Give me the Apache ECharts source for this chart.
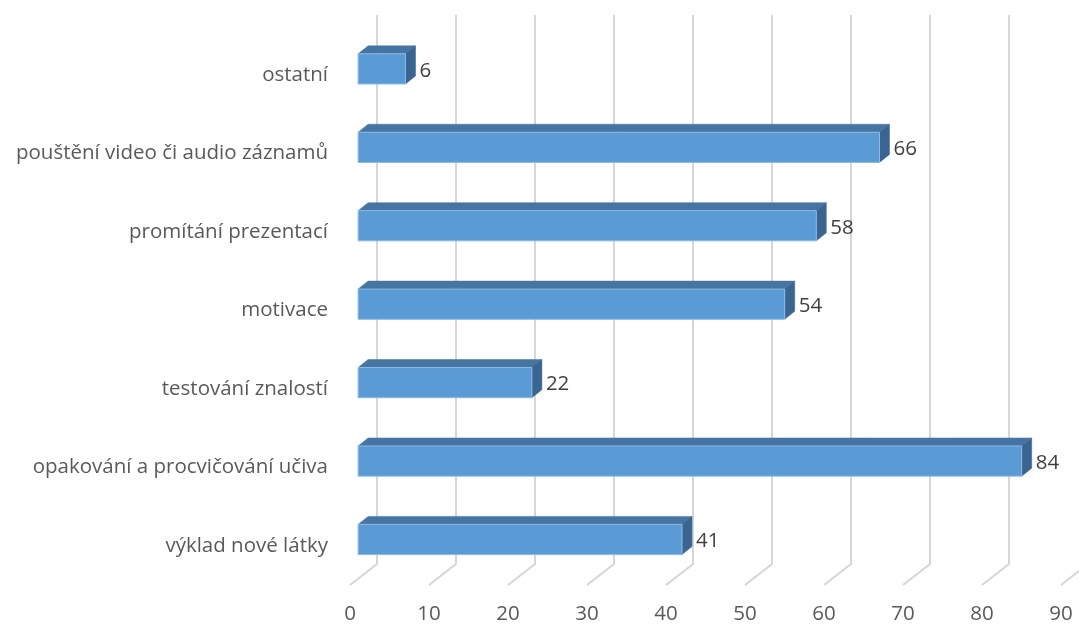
<!DOCTYPE html>
<html>
<head>
<meta charset="utf-8">
<script src="https://cdn.jsdelivr.net/npm/echarts@6/dist/echarts.min.js"></script>
<style>
  html, body { margin: 0; padding: 0; background: #fff; }
  #chart { width: 1079px; height: 626px; }
</style>
</head>
<body>
<div id="chart"></div>
<script>
// Categories listed bottom to top, as the category axis runs upward
const categories = [
  'výklad nové látky',
  'opakování a procvičování učiva',
  'testování znalostí',
  'motivace',
  'promítání prezentací',
  'pouštění video či audio záznamů',
  'ostatní'
];
const values = [41, 84, 22, 54, 58, 66, 6];
const xTicks = [0, 10, 20, 30, 40, 50, 60, 70, 80, 90];

// Pseudo-3D depth: shift from the front plane to the back wall
const DEPTH_X = 27, DEPTH_Y = -21;
// Bar box: front face sits a bit behind the front plane, with its own depth
const BAR_FRONT = 0.3, BAR_DEPTH_X = 10, BAR_DEPTH_Y = -8;
const BAR_RATIO = 0.385;

const TEXT = '#595959';
const FONT = 'Open Sans';
const SIZE = 20.5;

const chart = echarts.init(document.getElementById('chart'));

function renderGrid(params, api) {
  const v = api.value(0);
  const cs = params.coordSys;
  const x = api.coord([v, 0])[0];
  const bottom = cs.y + cs.height;
  const top = cs.y;
  const bx = x + DEPTH_X;
  return {
    type: 'polyline',
    shape: { points: [[bx, top + DEPTH_Y], [bx, bottom + DEPTH_Y], [x, bottom]] },
    style: { stroke: '#D6D6D6', lineWidth: 2, fill: null }
  };
}

function renderBar(params, api) {
  const cat = api.value(0);
  const val = api.value(1);
  const p0 = api.coord([0, cat]);
  const p1 = api.coord([val, cat]);
  const band = api.size([0, 1])[1];
  const h = band * BAR_RATIO;
  const ox = DEPTH_X * BAR_FRONT, oy = DEPTH_Y * BAR_FRONT;
  const x0 = p0[0] + ox, x1 = p1[0] + ox;
  const cy = p0[1] + oy;
  const y0 = cy - h / 2, y1 = cy + h / 2;
  const dx = BAR_DEPTH_X, dy = BAR_DEPTH_Y;
  return {
    type: 'group',
    children: [
      {
        type: 'polygon',
        shape: { points: [[x0, y0], [x1, y0], [x1 + dx, y0 + dy], [x0 + dx, y0 + dy]] },
        style: { fill: '#4675A3', stroke: '#4675A3', lineWidth: 0.5 }
      },
      {
        type: 'polygon',
        shape: { points: [[x1, y0], [x1 + dx, y0 + dy], [x1 + dx, y1 + dy], [x1, y1]] },
        style: { fill: '#3A6590', stroke: '#3A6590', lineWidth: 0.5 }
      },
      {
        type: 'rect',
        shape: { x: x0, y: y0, width: x1 - x0, height: h },
        style: { fill: '#5B9BD5', stroke: '#8EB9E3', lineWidth: 1 }
      },
      {
        type: 'text',
        style: {
          x: x1 + dx + 4,
          y: cy + 2,
          text: String(val),
          fill: '#404040',
          font: SIZE + 'px "' + FONT + '"',
          verticalAlign: 'middle',
          align: 'left'
        }
      }
    ]
  };
}

chart.setOption({
  animation: false,
  backgroundColor: '#ffffff',
  grid: { left: 350, right: 18, top: 36, bottom: 41, containLabel: false },
  xAxis: {
    type: 'value',
    min: 0,
    max: 90,
    interval: 10,
    axisLine: { show: false },
    axisTick: { show: false },
    splitLine: { show: false },
    axisLabel: { color: TEXT, fontSize: SIZE, fontFamily: FONT, margin: 19 }
  },
  yAxis: {
    type: 'category',
    data: categories,
    axisLine: { show: false },
    axisTick: { show: false },
    splitLine: { show: false },
    axisLabel: { color: TEXT, fontSize: SIZE, fontFamily: FONT, margin: 22 }
  },
  series: [
    {
      type: 'custom',
      renderItem: renderGrid,
      data: xTicks.map(v => [v, 0]),
      encode: { x: 0, y: 1 },
      z: 1,
      silent: true
    },
    {
      type: 'custom',
      renderItem: renderBar,
      data: values.map((v, i) => [i, v]),
      encode: { y: 0, x: 1 },
      z: 2,
      silent: true
    }
  ]
});
</script>
</body>
</html>
